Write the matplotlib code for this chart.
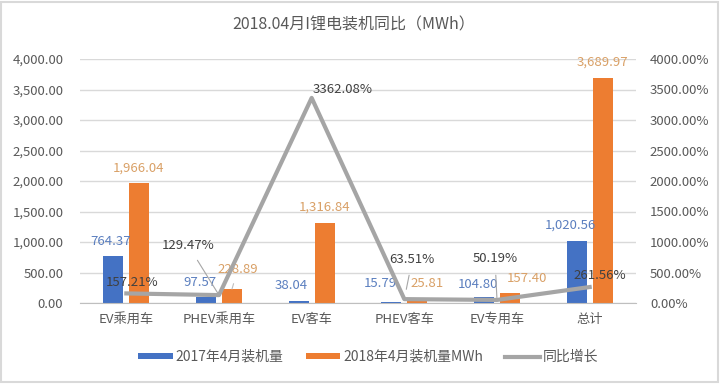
import matplotlib
matplotlib.use('Agg')
import matplotlib.pyplot as plt
from matplotlib.patches import Rectangle, Patch
from matplotlib.lines import Line2D
import numpy as np

plt.rcParams['font.family'] = ['Noto Sans CJK SC', 'DejaVu Sans']

title = '2018.04月I锂电装机同比（MWh）'
categories = ['EV乘用车', 'PHEV乘用车', 'EV客车', 'PHEV客车', 'EV专用车', '总计']
install_2017 = [764.37, 97.57, 38.04, 15.79, 104.80, 1020.56]
install_2018 = [1966.04, 228.89, 1316.84, 25.81, 157.40, 3689.97]
growth_pct = [157.21, 129.47, 3362.08, 63.51, 50.19, 261.56]
left_ticks = [0, 500, 1000, 1500, 2000, 2500, 3000, 3500, 4000]
right_ticks = [0, 500, 1000, 1500, 2000, 2500, 3000, 3500, 4000]
series_names = ['2017年4月装机量', '2018年4月装机量MWh', '同比增长']

BLUE = '#4472C4'
ORANGE = '#ED7D31'
GRAY = '#A5A5A5'
TXT = '#595959'

fig = plt.figure(figsize=(7.2, 3.84), dpi=100)
ax = fig.add_axes([80 / 720, 1 - 303 / 384, 556 / 720, 244 / 384])
x = np.arange(len(categories))
w = 0.216
off = 0.14
ax.bar(x - off, install_2017, w, color=BLUE, zorder=2)
ax.bar(x + off, install_2018, w, color=ORANGE, zorder=2)
ax.set_xlim(-0.5, len(categories) - 0.5)
ax.set_ylim(left_ticks[0], left_ticks[-1])
ax.set_yticks(left_ticks)
ax.set_yticklabels([f'{v:,.2f}' for v in left_ticks])
ax.set_xticks(x)
ax.set_xticklabels(categories)
ax.grid(axis='y', color='#D9D9D9', lw=1, zorder=0)
for s in ['top', 'right', 'left']:
    ax.spines[s].set_visible(False)
ax.spines['bottom'].set_color('#BFBFBF')
ax.tick_params(axis='both', length=0, labelsize=9.5, colors=TXT)
ax.tick_params(axis='y', pad=12)
ax.tick_params(axis='x', pad=7)

ax2 = ax.twinx()
ax2.set_ylim(right_ticks[0], right_ticks[-1])
ax2.set_yticks(right_ticks)
ax2.set_yticklabels([f'{v:.2f}%' for v in right_ticks])
for s in ['top', 'right', 'left', 'bottom']:
    ax2.spines[s].set_visible(False)
ax2.tick_params(axis='y', length=0, labelsize=9.5, colors=TXT, pad=10)
ax2.plot(x, growth_pct, color=GRAY, lw=3, zorder=3)

K = 0.72  # px -> pt

# bar labels: (dx, dy) offsets in px from bar top
blue_off = [(-3, 15), (-6, 15), (-7, 15), (-11, 19), (-6, 12), (-6, 16)]
orange_off = [(-1, 15), (6, 20), (0, 16), (10, 18), (17, 15), (0, 16)]
for i, v in enumerate(install_2017):
    dx, dy = blue_off[i]
    ax.annotate(f'{v:,.2f}', (x[i] - off, v), xytext=(dx * K, dy * K),
                textcoords='offset points', ha='center', va='center',
                fontsize=9.5, color='#5B7FBF', zorder=5)
for i, v in enumerate(install_2018):
    dx, dy = orange_off[i]
    arrow = None
    if i == 1:
        arrow = dict(arrowstyle='-', color='#BFBFBF', lw=0.8, shrinkA=4, shrinkB=0)
    ax.annotate(f'{v:,.2f}', (x[i] + off, v), xytext=(dx * K, dy * K),
                textcoords='offset points', ha='center', va='center',
                fontsize=9.5, color='#D9A066', zorder=5, arrowprops=arrow)

# line labels
line_off = [(6, 11), (-31, 50), (31, 8), (8, 40), (-2, 41), (10, 12)]
line_leader = [None, 0, None, 10, 2, None]
for i, v in enumerate(growth_pct):
    dx, dy = line_off[i]
    arrow = None
    if line_leader[i] is not None:
        arrow = dict(arrowstyle='-', color='#A6A6A6', lw=0.8, shrinkA=5,
                     shrinkB=line_leader[i] * K)
    ax2.annotate(f'{v:.2f}%', (x[i], v), xytext=(dx * K, dy * K),
                 textcoords='offset points', ha='center', va='center',
                 fontsize=9.5, color='#404040', zorder=6, arrowprops=arrow)

fig.text(354 / 720, 1 - 25 / 384, title, ha='center', va='center',
         fontsize=11.5, color=TXT)

handles = [Patch(facecolor=BLUE, edgecolor='none'),
           Patch(facecolor=ORANGE, edgecolor='none'),
           Line2D([0], [0], color=GRAY, lw=3)]
leg = fig.legend(handles, series_names, loc='center',
                 bbox_to_anchor=(368 / 720, 1 - 357 / 384), ncol=3, frameon=False,
                 fontsize=10, handlelength=2.5, handleheight=0.36,
                 handletextpad=0.2, columnspacing=1.6, labelcolor=TXT)

fig.patches.append(Rectangle((0.002, 0.004), 0.995, 0.992, transform=fig.transFigure,
                             fill=False, ec='#D9D9D9', lw=1.5))

fig.savefig('out.png', dpi=100, facecolor='white')
